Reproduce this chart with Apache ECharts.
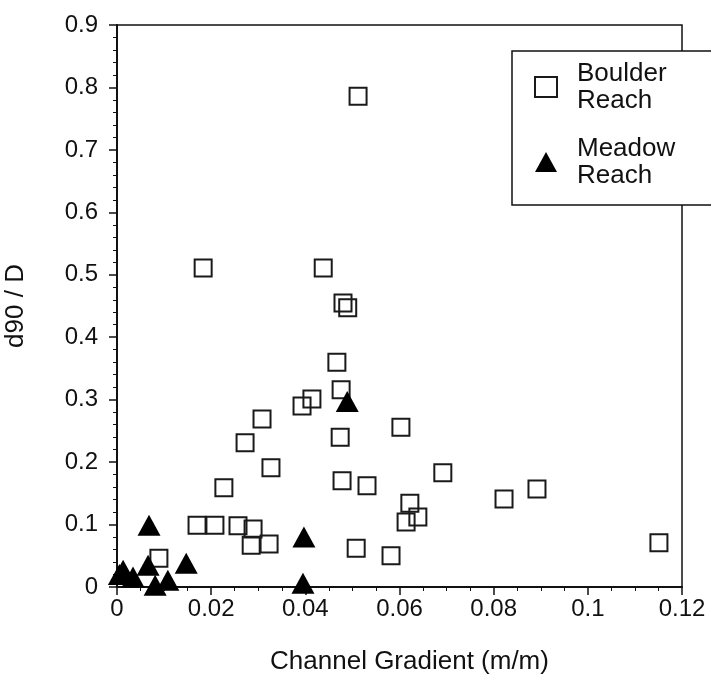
<!DOCTYPE html>
<html>
<head>
<meta charset="utf-8">
<script src="https://cdn.jsdelivr.net/npm/echarts@6/dist/echarts.min.js"></script>
<style>
  html, body { margin: 0; padding: 0; background: #fff; }
  #chart { width: 711px; height: 675px; }
</style>
</head>
<body>
<div id="chart"></div>
<script>
// 数据
const boulderX = [0.0512, 0.0183, 0.0438, 0.0480, 0.0490, 0.0467, 0.0476, 0.0414, 0.0393, 0.0308,
  0.0272, 0.0474, 0.0603, 0.0327, 0.0227, 0.0478, 0.0531, 0.0692, 0.0622, 0.0614,
  0.0639, 0.0822, 0.0892, 0.1151, 0.0508, 0.0582, 0.0170, 0.0208, 0.0257, 0.0289,
  0.0285, 0.0323, 0.0089];
const boulderY = [0.786, 0.511, 0.511, 0.455, 0.447, 0.360, 0.316, 0.301, 0.290, 0.269,
  0.231, 0.240, 0.256, 0.191, 0.159, 0.170, 0.162, 0.183, 0.134, 0.104,
  0.112, 0.141, 0.157, 0.071, 0.062, 0.050, 0.099, 0.099, 0.098, 0.093,
  0.067, 0.069, 0.046];
const meadowX = [0.0489, 0.0068, 0.0397, 0.0395, 0.0147, 0.0066, 0.0013, 0.0034, 0.0081, 0.0108, 0.0005];
const meadowY = [0.297, 0.099, 0.080, 0.006, 0.038, 0.035, 0.027, 0.016, 0.003, 0.011, 0.020];

const seriesNames = ['Boulder\nReach', 'Meadow\nReach'];
const xTickLabels = ['0', '0.02', '0.04', '0.06', '0.08', '0.1', '0.12'];
const yTickLabels = ['0', '0.1', '0.2', '0.3', '0.4', '0.5', '0.6', '0.7', '0.8', '0.9'];

const font = '"Liberation Sans", Arial, Helvetica, sans-serif';
const ink = '#111';

const chart = echarts.init(document.getElementById('chart'), null, { renderer: 'canvas' });

const option = {
  backgroundColor: '#fff',
  animation: false,
  grid: {
    left: 117, right: 29, top: 25, bottom: 88,
    outerBoundsMode: 'none',
    containLabel: false,
    show: true, borderColor: ink, borderWidth: 1.5,
  },
  legend: {
    orient: 'vertical',
    left: 512, top: 51,
    padding: [9, 60, 16, 22],
    itemGap: 21,
    itemWidth: 22, itemHeight: 20,
    borderColor: ink, borderWidth: 1.5,
    backgroundColor: '#fff',
    data: seriesNames,
    textStyle: {
      fontFamily: font, fontSize: 26, color: ink,
      lineHeight: 27, padding: [0, 0, 0, 15],
    },
  },
  xAxis: {
    type: 'value',
    min: 0, max: 0.12, interval: 0.02,
    name: 'Channel Gradient (m/m)',
    nameLocation: 'middle', nameGap: 62,
    nameTextStyle: { fontFamily: font, fontSize: 26, color: ink, padding: [0, 0, 0, 20] },
    axisLine: { show: true, lineStyle: { color: ink, width: 2 } },
    axisTick: { show: true, length: 8, lineStyle: { color: ink, width: 1.5 } },
    minorTick: { show: true, splitNumber: 4, length: 4, lineStyle: { color: ink, width: 1 } },
    splitLine: { show: false },
    axisLabel: {
      fontFamily: font, fontSize: 24, color: ink, margin: 10,
      formatter: (v) => xTickLabels[Math.round(v / 0.02)],
    },
  },
  yAxis: {
    type: 'value',
    min: 0, max: 0.9, interval: 0.1,
    name: 'd90 / D',
    nameLocation: 'middle', nameGap: 88, nameRotate: 90,
    nameTextStyle: { fontFamily: font, fontSize: 26, color: ink },
    axisLine: { show: true, lineStyle: { color: ink, width: 2 } },
    axisTick: { show: true, length: 8, lineStyle: { color: ink, width: 1.5 } },
    minorTick: { show: true, splitNumber: 5, length: 4, lineStyle: { color: ink, width: 1 } },
    splitLine: { show: false },
    axisLabel: {
      fontFamily: font, fontSize: 24, color: ink, margin: 19,
      formatter: (v) => yTickLabels[Math.round(v / 0.1)],
    },
  },
  series: [
    {
      name: seriesNames[0],
      type: 'scatter',
      symbol: 'rect',
      symbolSize: 17,
      itemStyle: { color: 'transparent', borderColor: '#1a1a1a', borderWidth: 2, opacity: 1 },
      data: boulderX.map((x, i) => [x, boulderY[i]]),
      z: 2,
    },
    {
      name: seriesNames[1],
      type: 'scatter',
      symbol: 'triangle',
      symbolSize: [23, 21],
      itemStyle: { color: '#000', opacity: 1 },
      data: meadowX.map((x, i) => [x, meadowY[i]]),
      z: 3,
    },
  ],
};

chart.setOption(option);
</script>
</body>
</html>
